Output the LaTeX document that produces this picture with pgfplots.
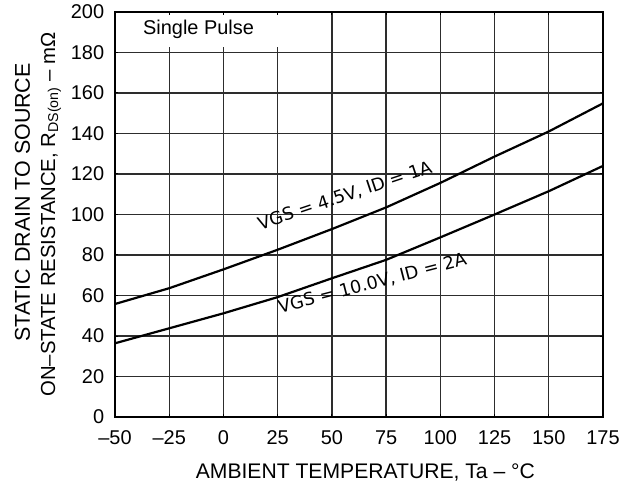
\documentclass[border=0pt]{standalone}
\usepackage{fontspec}
\setmainfont{Liberation Sans}
\newfontfamily\lblfont{DejaVu Sans}
\usepackage{pgfplots}
\pgfplotsset{compat=1.18}

\begin{document}
\fontsize{20}{26}\selectfont
\begin{tikzpicture}

\definecolor{gridgray}{RGB}{45,45,45}

\begin{axis}[
scale only axis,
width=488bp, height=405bp,
xmin=-50, xmax=175,
ymin=0, ymax=200,
xtick={-50,-25,0,25,50,75,100,125,150,175},
xticklabels={–50,–25,0,25,50,75,100,125,150,175},
ytick={0,20,40,60,80,100,120,140,160,180,200},
/pgf/number format/assume math mode=true,
xticklabel style={yshift=-7bp},
yticklabel style={xshift=-4bp},
major tick length=3bp,
tick style={black, line width=1bp},
axis line style={black, line width=2bp},
grid=major,
major grid style={gridgray, line width=1.3bp},
xlabel={AMBIENT TEMPERATURE, Ta – °C},
xlabel style={at={(axis description cs:0.513,-0.153)}, anchor=base,
  font=\fontsize{21.2}{26}\selectfont},
clip=false,
]
% white box behind the "Single Pulse" note
\fill [white] (axis cs:-49.4,182.7) rectangle (axis cs:31,198.3);
\node [anchor=base west, inner sep=0pt] at (axis cs:-37.1,189.1) {Single Pulse};

% y label, two lines
\node [rotate=90, anchor=base, inner sep=0pt, font=\fontsize{21.5}{26}\selectfont]
  at (axis description cs:-0.1742,0.5296) {STATIC DRAIN TO SOURCE};
\node [rotate=90, anchor=base, inner sep=0pt, font=\fontsize{20.4}{26}\selectfont]
  at (axis description cs:-0.1229,0.5)
  {ON–STATE RESISTANCE, R\textsubscript{DS(on)} – mΩ};

% VGS = 4.5V, ID = 1A
\addplot [black, line width=2.2bp]
table {%
-50 55.8
-25 63.6
0 72.9
25 82.6
50 92.8
75 103.5
100 115.6
125 128.6
150 141.0
175 154.9
};
% VGS = 10.0V, ID = 2A
\addplot [black, line width=2.2bp]
table {%
-50 36.4
-25 43.8
0 51.2
25 59.2
50 68.5
75 77.6
100 88.7
125 100.0
150 111.5
175 124.0
};

\node [anchor=base west, inner sep=0pt, rotate=18.5, font=\lblfont\fontsize{17.7}{20}\selectfont]
  at (axis cs:16.9,92.3) {VGS = 4.5V, ID = 1A};
\node [anchor=base west, inner sep=0pt, rotate=14.5, font=\lblfont\fontsize{17.7}{20}\selectfont]
  at (axis cs:26.1,51.2) {VGS = 10.0V, ID = 2A};
\end{axis}

\pgfresetboundingbox
\path [use as bounding box] (-115bp,-72bp) rectangle (515bp,417bp);
\end{tikzpicture}
\end{document}
